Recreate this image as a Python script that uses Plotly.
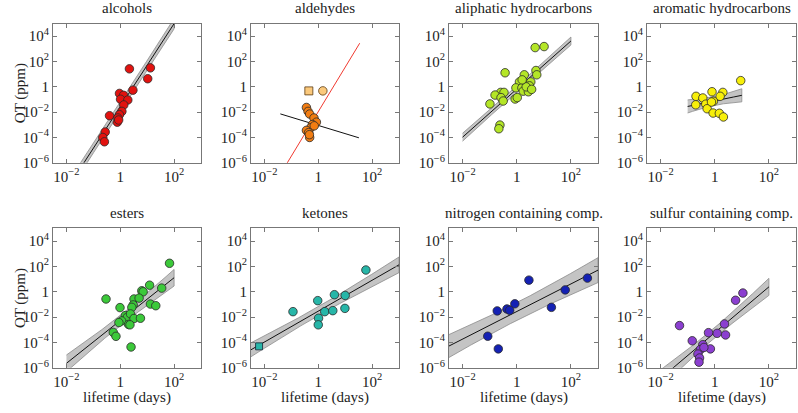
import numpy as np
import plotly.graph_objects as go

# ---------------- data (log10 lifetime [days], log10 OT [ppm]) ----------------
panel_titles = ["alcohols", "aldehydes", "aliphatic hydrocarbons", "aromatic hydrocarbons",
                "esters", "ketones", "nitrogen containing comp.", "sulfur containing comp."]

alcohols_lx = [0.34, 1.12, 1.02, 0.47, -0.03, 0.12, 0.01, 0.28, 0.13, 0.06, -0.03, -0.40, -0.09, -0.11, -0.56, -0.65, -0.59, -0.06]
alcohols_ly = [1.42, 1.50, 0.64, -0.26, -0.52, -0.67, -0.98, -1.04, -1.43, -1.94, -2.20, -2.28, -2.46, -2.79, -3.57, -4.00, -4.34, -2.62]

aldehydes_lx = [-0.44, -0.38, -0.32, -0.16, -0.07, -0.22, -0.28, -0.44, -0.36, -0.32, -0.33, -0.15]
aldehydes_ly = [-1.63, -1.94, -2.15, -2.46, -2.79, -2.98, -3.23, -3.44, -3.62, -4.00, -3.78, -3.08]
aldehydes_sq_lx = [-0.35]
aldehydes_sq_ly = [-0.32]
aldehydes_pale_lx = [0.17]
aldehydes_pale_ly = [-0.32]

aliphatic_lx = [0.68, 1.01, -0.43, 0.71, 0.74, 0.28, 0.10, 0.31, 0.52, -0.03, 0.19, 0.47, 0.24, 0.43,
                -0.59, -0.47, -0.80, -0.58, -0.50, -0.06, 0.02, -0.99, -0.62, -0.66, 0.35, 0.55, 0.20]
aliphatic_ly = [3.10, 3.18, 1.11, 1.29, 0.95, 0.95, 0.39, 0.33, 0.39, -0.08, -0.08, 0.08, -0.34, -0.39,
                -0.44, -0.44, -0.65, -0.85, -1.12, -0.96, -0.85, -1.35, -3.02, -3.31, 0.00, -0.20, 0.55]

aromatic_lx = [0.96, -0.69, -0.10, 0.30, -0.44, 0.20, -0.05, -0.33, -0.70, -0.28, -0.06, 0.17, 0.32, -0.12]
aromatic_ly = [0.49, -0.75, -0.39, -0.44, -0.88, -0.75, -1.14, -1.37, -1.42, -1.73, -2.07, -2.09, -2.38, -1.20]

esters_lx = [1.83, 1.09, 1.54, 0.80, 0.85, -0.53, 0.51, 0.70, 0.48, 0.43, -0.01, 1.12, 1.32, 0.19, 0.26,
             0.38, 0.51, 0.75, 0.05, -0.05, 0.31, 0.36, -0.26, -0.16, 0.40]
esters_ly = [2.25, 0.52, 0.29, 0.08, 0.00, -0.57, -0.57, -0.50, -1.04, -1.23, -1.25, -0.97, -1.10, -1.88, -2.01,
             -1.75, -2.11, -2.09, -2.30, -2.43, -2.58, -2.61, -3.21, -3.52, -4.36]

ketones_lx = [-0.94, -0.02, 0.60, 1.00, 0.99, 0.24, 0.54, 0.01, 0.00, 1.77]
ketones_ly = [-1.57, -0.70, -0.23, -0.29, -1.31, -1.57, -1.49, -2.09, -2.61, 1.72]
ketones_sq_lx = [-2.20]
ketones_sq_ly = [-4.31]

nitrogen_lx = [2.61, 1.79, 1.28, 0.45, -0.07, -0.36, -0.26, -0.72, -1.07, -0.68]
nitrogen_ly = [1.08, 0.15, -1.23, 0.92, -0.95, -1.36, -1.46, -1.51, -3.51, -4.51]

sulfur_lx = [1.04, 0.77, 0.36, 0.40, 0.09, -0.23, -1.30, -0.83, -0.44, -0.16, -0.53, -0.62, -0.56, -0.58, -0.40]
sulfur_ly = [-0.10, -0.67, -2.54, -3.41, -3.28, -3.23, -2.67, -3.87, -4.18, -4.51, -4.56, -4.92, -5.23, -5.56, -4.40]

# fit: intercept, slope, fit x-range (log10), band half-width at centre, band growth
fit_intercept = [-1.57, -3.05, -0.18, -1.11, -2.27, -1.53, -1.56, -3.23]
fit_slope = [3.28, -0.647, 1.90, 0.44, 1.69, 1.22, 1.09, 1.81]
fit_xmin = [-2.5, -1.41, -2.0, -1.0, -2.0, -2.5, -2.5, -2.5]
fit_xmax = [2.0, 1.51, 2.0, 1.0, 2.0, 3.0, 3.0, 2.0]
band_h0 = [0.36, 0.0, 0.24, 0.35, 0.40, 0.35, 0.70, 0.40]
band_h1 = [0.10, 0.0, 0.10, 0.38, 0.26, 0.17, 0.23, 0.27]
# aldehydes: second (red) fit line
ald_red_intercept = -1.96
ald_red_slope = 3.51
ald_red_xrange = [-1.5, 1.54]

colors = ["#e2120f", "#f27d12", "#b4e627", "#f7ef0a", "#3cc93a", "#27b6a8", "#1421b4", "#8b3fd0"]
pale_orange = "#fbc97c"

x_tickvals = [1e-2, 1, 1e2]
x_ticktext = ["10<sup>−2</sup>", "1", "10<sup>2</sup>"]
y_tickvals = [1e-6, 1e-4, 1e-2, 1, 1e2, 1e4]
y_ticktext = ["10<sup>−6</sup>", "10<sup>−4</sup>", "10<sup>−2</sup>", "1", "10<sup>2</sup>", "10<sup>4</sup>"]

points = [
    (alcohols_lx, alcohols_ly), (aldehydes_lx, aldehydes_ly), (aliphatic_lx, aliphatic_ly),
    (aromatic_lx, aromatic_ly), (esters_lx, esters_ly), (ketones_lx, ketones_ly),
    (nitrogen_lx, nitrogen_ly), (sulfur_lx, sulfur_ly),
]

# ---------------- layout ----------------
W, H = 798, 413
col_px = [(53, 201), (251, 399), (449, 598), (647, 796)]
row_px = [(24, 166), (233, 375)]
FONT = "Liberation Serif"

fig = go.Figure()
layout = dict(width=W, height=H, margin=dict(l=0, r=0, t=0, b=0),
              paper_bgcolor="white", plot_bgcolor="white", showlegend=False, hovermode=False,
              font=dict(family=FONT, size=15, color="#222"))
annotations = []


def pe(v):
    return [10 ** x for x in v]


for i in range(8):
    r, c = divmod(i, 4)
    n = i + 1
    xa = "x" if n == 1 else f"x{n}"
    ya = "y" if n == 1 else f"y{n}"
    x0, x1 = col_px[c]
    y0, y1 = row_px[r]
    common = dict(showline=True, linecolor="#777", linewidth=1, mirror="ticks", ticks="inside",
                  ticklen=4, tickcolor="#777", showgrid=False, zeroline=False, type="log",
                  tickfont=dict(family=FONT, size=15, color="#222"))
    layout[f"xaxis{'' if n == 1 else n}"] = dict(common, domain=[x0 / W, x1 / W], range=[-2.5, 3],
                                                  anchor=ya, tickvals=x_tickvals, ticktext=x_ticktext)
    layout[f"yaxis{'' if n == 1 else n}"] = dict(common, domain=[1 - y1 / H, 1 - y0 / H], range=[-6, 5],
                                                  anchor=xa, tickvals=y_tickvals, ticktext=y_ticktext)

    # fit band + line
    lx = np.linspace(fit_xmin[i], fit_xmax[i], 120)
    ly = fit_intercept[i] + fit_slope[i] * lx
    if band_h0[i] > 0:
        hw = np.sqrt(band_h0[i] ** 2 + (band_h1[i] * lx) ** 2)
        bx = np.concatenate([lx, lx[::-1]])
        by = np.concatenate([ly + hw, (ly - hw)[::-1]])
        fig.add_trace(go.Scatter(x=10 ** bx, y=10 ** by, mode="lines", fill="toself",
                                 fillcolor="#c4c4c4", line=dict(color="#8c8c8c", width=0.8),
                                 xaxis=xa, yaxis=ya, hoverinfo="skip"))
    fig.add_trace(go.Scatter(x=10 ** lx, y=10 ** ly, mode="lines", line=dict(color="#111", width=1),
                             xaxis=xa, yaxis=ya))
    if i == 1:
        rx = np.linspace(ald_red_xrange[0], ald_red_xrange[1], 50)
        ry = ald_red_intercept + ald_red_slope * rx
        fig.add_trace(go.Scatter(x=10 ** rx, y=10 ** ry, mode="lines", line=dict(color="#f03a30", width=1),
                                 xaxis=xa, yaxis=ya))
        fig.add_trace(go.Scatter(x=pe(aldehydes_sq_lx), y=pe(aldehydes_sq_ly), mode="markers",
                                 marker=dict(symbol="square", size=8, color=pale_orange,
                                             line=dict(color="#5a3a10", width=0.8)), xaxis=xa, yaxis=ya))
        fig.add_trace(go.Scatter(x=pe(aldehydes_pale_lx), y=pe(aldehydes_pale_ly), mode="markers",
                                 marker=dict(symbol="circle", size=8.5, color=pale_orange,
                                             line=dict(color="#5a3a10", width=0.8)), xaxis=xa, yaxis=ya))
    if i == 5:
        fig.add_trace(go.Scatter(x=pe(ketones_sq_lx), y=pe(ketones_sq_ly), mode="markers",
                                 marker=dict(symbol="square", size=7, color=colors[i],
                                             line=dict(color="#123", width=0.8)), xaxis=xa, yaxis=ya))
    px, py = points[i]
    fig.add_trace(go.Scatter(x=pe(px), y=pe(py), mode="markers",
                             marker=dict(symbol="circle", size=8.5, color=colors[i],
                                         line=dict(color="#2a2a2a", width=0.8)),
                             xaxis=xa, yaxis=ya))

    # title
    annotations.append(dict(text=panel_titles[i], x=(x0 + x1) / 2 / W, y=1 - (y0 - 16) / H,
                            xref="paper", yref="paper", showarrow=False, xanchor="center",
                            yanchor="middle", font=dict(family=FONT, size=15, color="#222")))
    if c == 0:
        annotations.append(dict(text="OT (ppm)", x=20 / W, y=1 - (y0 + y1) / 2 / H, textangle=-90,
                                xref="paper", yref="paper", showarrow=False, xanchor="center",
                                yanchor="middle", font=dict(family=FONT, size=15, color="#222")))
    if r == 1:
        annotations.append(dict(text="lifetime (days)", x=(x0 + x1) / 2 / W, y=1 - 405 / H,
                                xref="paper", yref="paper", showarrow=False, xanchor="center",
                                yanchor="middle", font=dict(family=FONT, size=15, color="#222")))

layout["annotations"] = annotations
fig.update_layout(**layout)
fig.write_html("out.html", config={"displayModeBar": False, "staticPlot": True},
               post_script="document.body.style.margin='0';document.body.style.overflow='hidden';")
